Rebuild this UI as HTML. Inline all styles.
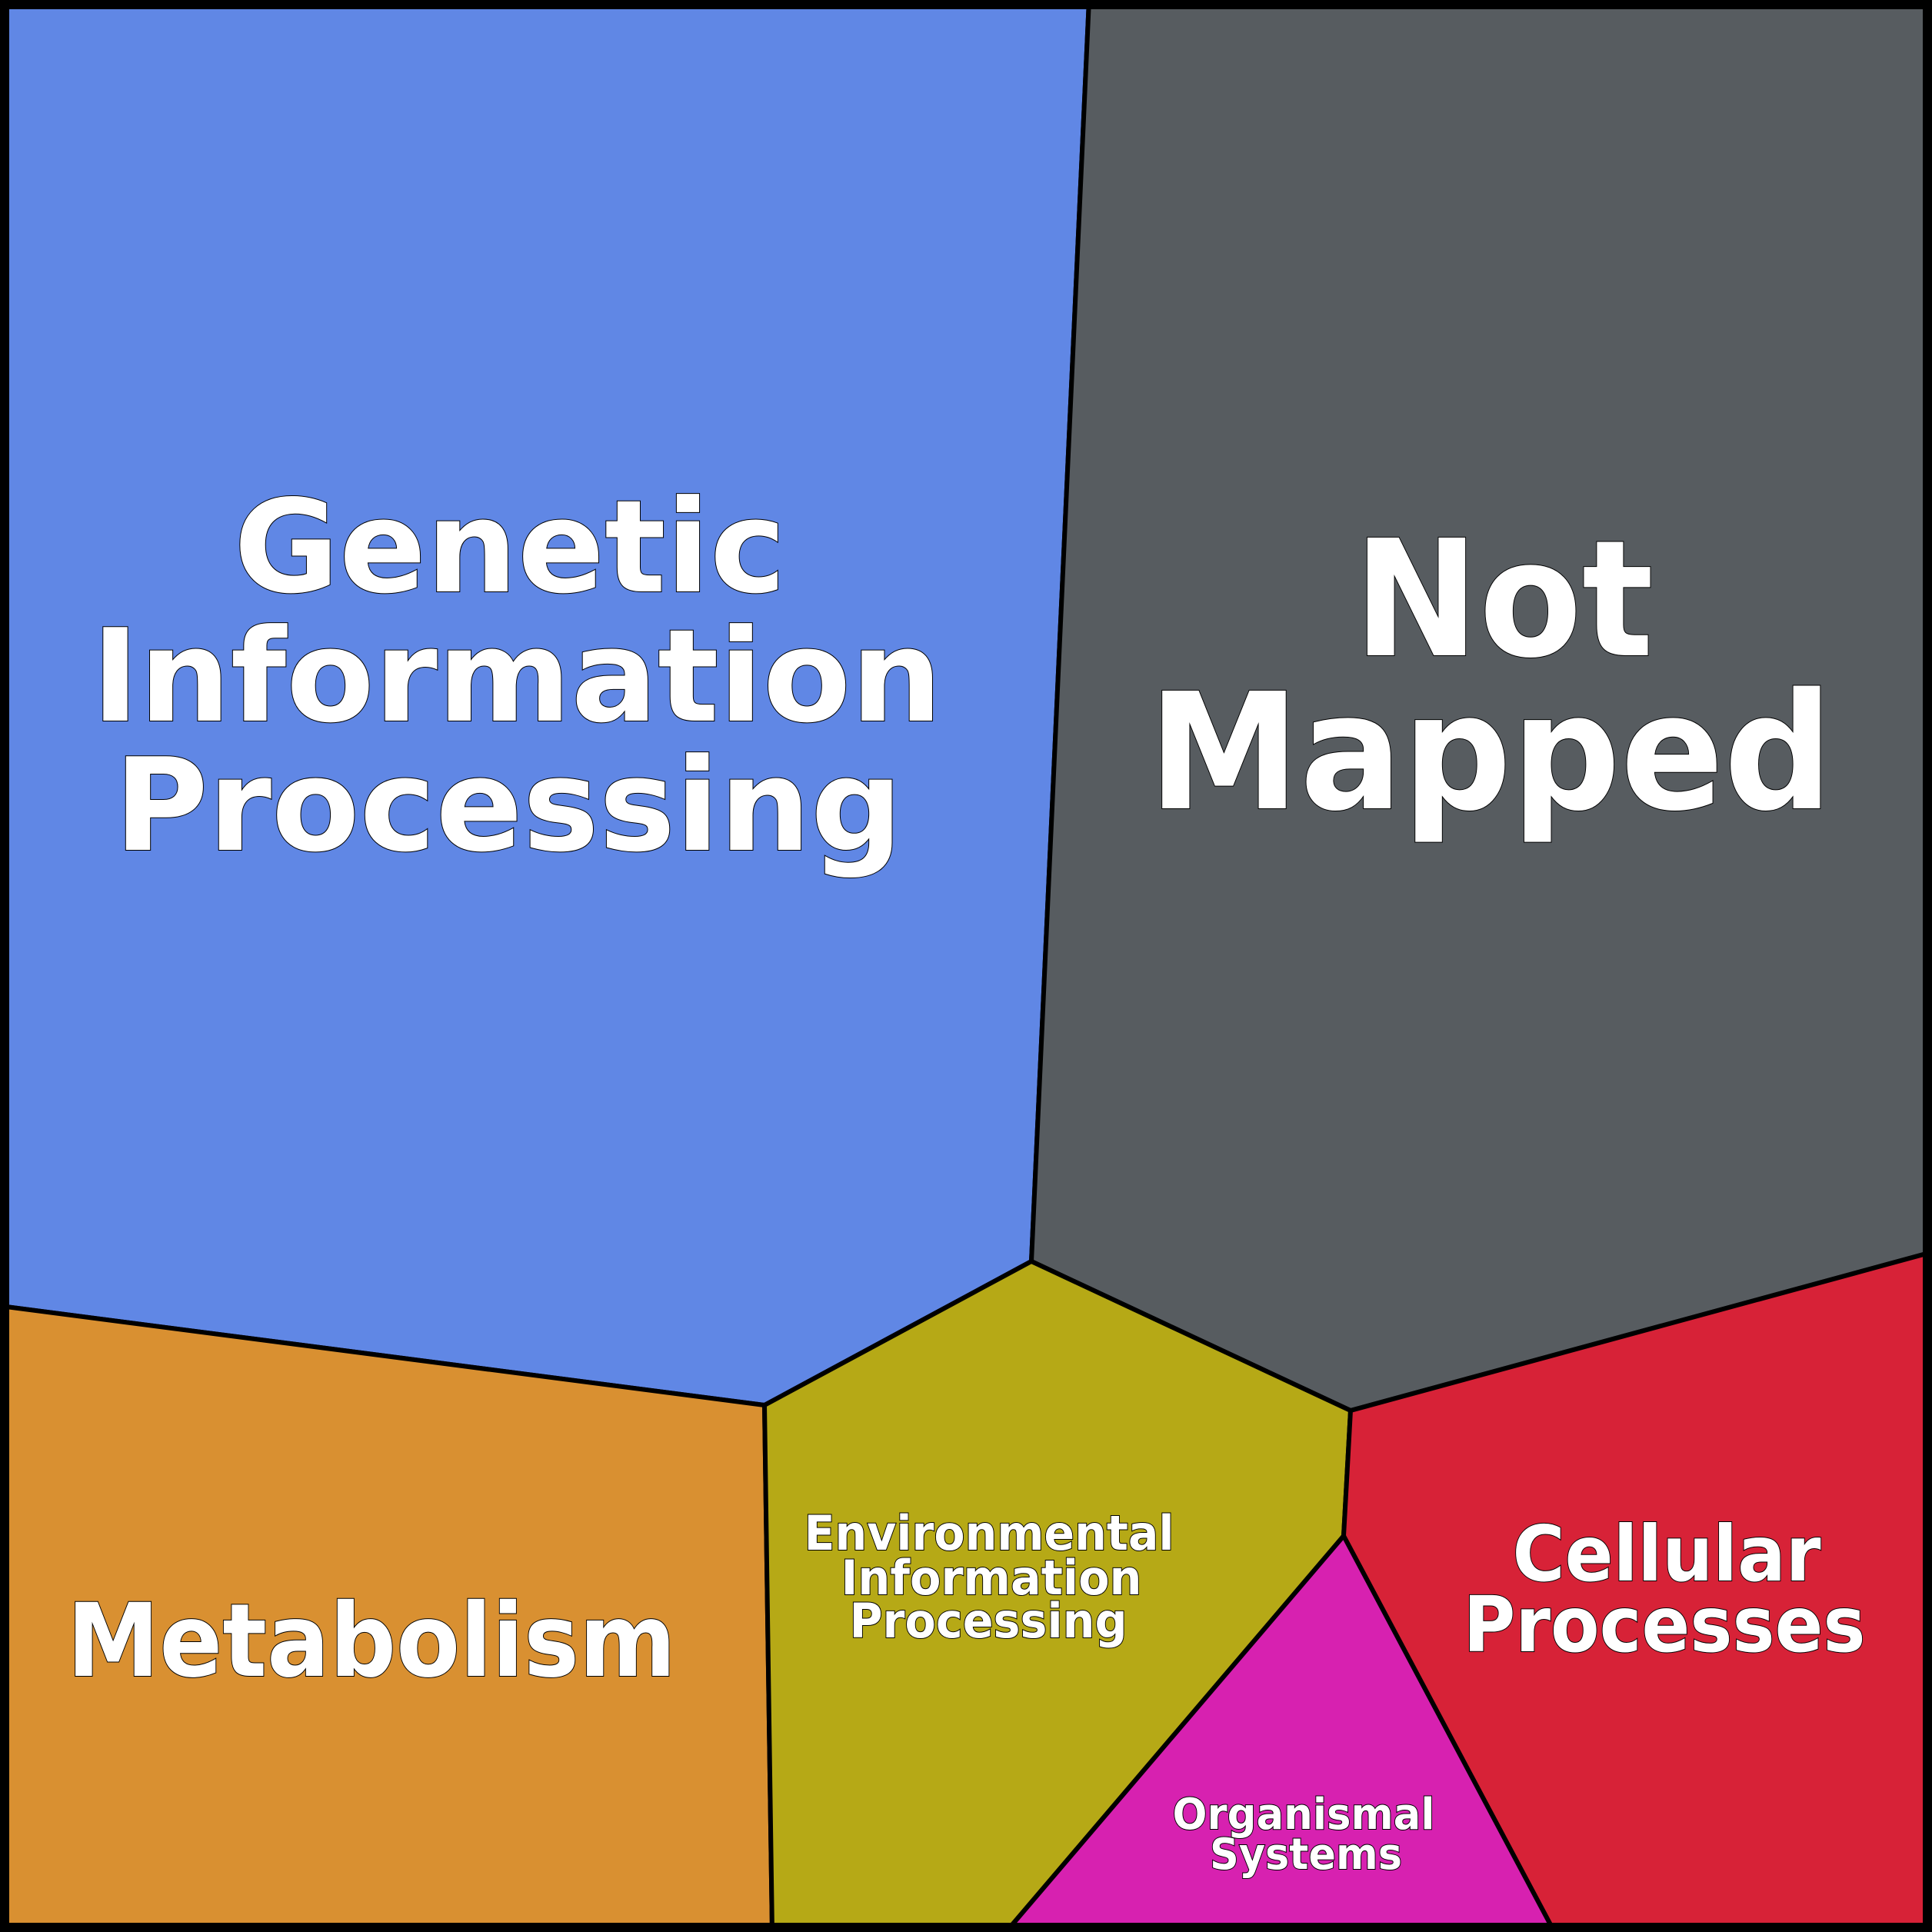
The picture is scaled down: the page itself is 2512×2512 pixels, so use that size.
<!DOCTYPE html>
<html><head><meta charset="utf-8"><style>
html,body{margin:0;padding:0;background:#fff}
svg{display:block}
text{font-family:"DejaVu Sans","Liberation Sans",sans-serif;font-weight:bold;fill:#fff;stroke:#000;stroke-width:2;paint-order:stroke;text-anchor:middle}
</style></head><body>
<svg width="2512" height="2512" viewBox="0 0 2512 2512" xmlns="http://www.w3.org/2000/svg">
<g stroke="#000" stroke-width="6" stroke-linejoin="miter">
<polygon points="0,0 1416,0 1341,1640 994,1827 0,1698" fill="#6087e5"/>
<polygon points="1416,0 2512,0 2512,1628 1756,1834 1341,1640" fill="#575c60"/>
<polygon points="0,1698 994,1827 1004,2512 0,2512" fill="#d99031"/>
<polygon points="994,1827 1341,1640 1756,1834 1747,1997 1308,2512 1004,2512" fill="#b6a916"/>
<polygon points="1756,1834 2512,1628 2512,2512 2021,2512 1747,1997" fill="#d72237"/>
<polygon points="1747,1997 2021,2512 1308,2512" fill="#d721b0"/>
</g>
<rect x="6" y="6" width="2500" height="2500" fill="none" stroke="#000" stroke-width="12"/>
<text x="663" y="769" font-size="167" textLength="718" lengthAdjust="spacingAndGlyphs">Genetic</text>
<text x="672" y="937" font-size="167" textLength="1106" lengthAdjust="spacingAndGlyphs">Information</text>
<text x="661" y="1105" font-size="167" textLength="1025" lengthAdjust="spacingAndGlyphs">Processing</text>
<text x="1955" y="852" font-size="210" textLength="390" lengthAdjust="spacingAndGlyphs">Not</text>
<text x="1938" y="1051" font-size="210" textLength="890" lengthAdjust="spacingAndGlyphs">Mapped</text>
<text x="483" y="2179" font-size="132" textLength="792" lengthAdjust="spacingAndGlyphs">Metabolism</text>
<text x="2167" y="2055" font-size="100" textLength="401" lengthAdjust="spacingAndGlyphs">Cellular</text>
<text x="2164" y="2147" font-size="100" textLength="523" lengthAdjust="spacingAndGlyphs">Processes</text>
<text x="1286" y="2015" font-size="62" stroke-width="1.5" textLength="481" lengthAdjust="spacingAndGlyphs">Environmental</text>
<text x="1289" y="2073" font-size="62" stroke-width="1.5" textLength="391" lengthAdjust="spacingAndGlyphs">Information</text>
<text x="1285" y="2129" font-size="62" stroke-width="1.5" textLength="361" lengthAdjust="spacingAndGlyphs">Processing</text>
<text x="1695" y="2378" font-size="56" stroke-width="1.5" textLength="341" lengthAdjust="spacingAndGlyphs">Organismal</text>
<text x="1698" y="2430" font-size="56" stroke-width="1.5" textLength="250" lengthAdjust="spacingAndGlyphs">Systems</text>
</svg>
</body></html>
